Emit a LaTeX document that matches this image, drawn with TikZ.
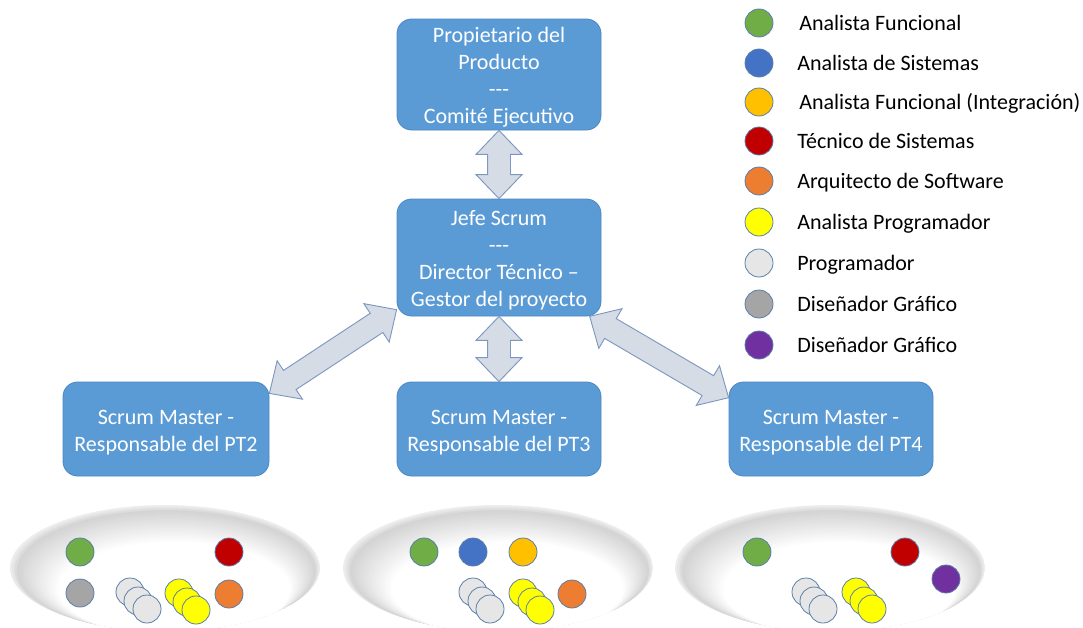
\documentclass[tikz,border=0pt]{standalone}
\usepackage{fontspec}
\setmainfont{Carlito}
\usetikzlibrary{calc}

\definecolor{boxblue}{HTML}{5B9BD5}
\definecolor{boxedge}{HTML}{4A86C2}
\definecolor{arrfill}{HTML}{D6DCE5}
\definecolor{arredge}{HTML}{7D98C0}
\definecolor{dotedge}{HTML}{5A7FA8}
\definecolor{cgreen}{HTML}{70AD47}
\definecolor{cblue}{HTML}{4472C4}
\definecolor{cgold}{HTML}{FFC000}
\definecolor{cred}{HTML}{C00000}
\definecolor{corange}{HTML}{ED7D31}
\definecolor{cyellow}{HTML}{FFFF00}
\definecolor{clight}{HTML}{E7E6E6}
\definecolor{cgrey}{HTML}{A5A5A5}
\definecolor{cpurple}{HTML}{7030A0}

% block double arrow between two points
\newcommand\ahl{18pt}
\newcommand\ahw{17.25pt}
\newcommand\asw{8.6pt}
\newcommand\dblarrow[2]{%
  \draw[dblarr] let \p1=(#1), \p2=(#2),
    \n1={atan2(\y2-\y1,\x2-\x1)}, \n2={veclen(\x2-\x1,\y2-\y1)-18} in
    (\p1)
    -- ($(\p1)+(\n1:\ahl)+(\n1+90:\ahw)$)
    -- ($(\p1)+(\n1:\ahl)+(\n1+90:\asw)$)
    -- ($(\p1)+(\n1:\n2)+(\n1+90:\asw)$)
    -- ($(\p1)+(\n1:\n2)+(\n1+90:\ahw)$)
    -- (\p2)
    -- ($(\p1)+(\n1:\n2)+(\n1-90:\ahw)$)
    -- ($(\p1)+(\n1:\n2)+(\n1-90:\asw)$)
    -- ($(\p1)+(\n1:\ahl)+(\n1-90:\asw)$)
    -- ($(\p1)+(\n1:\ahl)+(\n1-90:\ahw)$)
    -- cycle;}

% team pool: soft grey rim fading to a white centre (stacked ellipses)
\newcommand\teampool[1]{%
  \begin{scope}
    \clip (#1) ellipse [x radius=116.25pt, y radius=47.25pt];
    \foreach \k in {0,1,...,24}{%
      \pgfmathsetmacro\rx{116.25*(1-0.012*\k)}%
      \pgfmathsetmacro\ry{47.25*(1-0.012*\k)}%
      \pgfmathsetmacro\gr{\k<4 ? 7+3.3*\k : max(0,17*(1-(\k-3)/18))}%
      \fill[black!\gr] ($(#1)+(0.45*\k,-1.0*\k)$)
        ellipse [x radius=\rx pt, y radius=\ry pt];
    }
  \end{scope}}

% taller first line so the text block sits visually centred
\newcommand\firststrut{\rule{0pt}{16pt}}

\tikzset{
  rolebox/.style={draw=boxedge, line width=0.6pt, fill=boxblue,
    rounded corners=11pt, text=white, align=center, inner sep=0pt,
    minimum width=153pt},
  dblarr/.style={draw=arredge, line width=0.7pt, fill=arrfill, line join=miter},
  dot/.style={circle, draw=dotedge, line width=0.6pt, inner sep=0pt,
    minimum size=21pt},
  legtext/.style={anchor=base west, inner sep=0pt, text=black},
}

\begin{document}
\begin{tikzpicture}[x=0.75pt, y=0.75pt, font=\fontsize{16.5}{20.2}\selectfont]
\useasboundingbox (0,0) rectangle (1083,-628);

% team pools
\coordinate (team2) at (165,-568);
\coordinate (team3) at (498,-568);
\coordinate (team4) at (830,-568);
\teampool{team2}
\teampool{team3}
\teampool{team4}

% role boxes
\node[rolebox, minimum height=83.25pt] (po) at (499,-74.5)
  {\firststrut Propietario del\\Producto\\-{}-{}-\\Comité Ejecutivo};
\node[rolebox, minimum height=87.75pt] (js) at (499,-257.5)
  {\firststrut Jefe Scrum\\-{}-{}-\\Director Técnico –\\Gestor del proyecto};
\node[rolebox, minimum height=70.5pt, minimum width=154.5pt] (pt2) at (166,-429)
  {\firststrut Scrum Master -\\Responsable del PT2};
\node[rolebox, minimum height=70.5pt] (pt3) at (499,-429)
  {\firststrut Scrum Master -\\Responsable del PT3};
\node[rolebox, minimum height=70.5pt] (pt4) at (831,-429)
  {\firststrut Scrum Master -\\Responsable del PT4};

% communication arrows
\dblarrow{po.south}{js.north}
\dblarrow{js.south}{pt3.north}
\dblarrow{js.207.5}{pt2.19}
\dblarrow{js.-33.6}{pt4.163}

% team PT2
\node[dot, fill=cgreen]  (a1) at (80,-552) {};
\node[dot, fill=cred]    (a2) at (229,-552) {};
\node[dot, fill=cgrey]   (a3) at (80,-593) {};
\node[dot, fill=corange] (a4) at (229,-594) {};
\node[dot, fill=clight]  (a5) at (130,-592) {};
\node[dot, fill=clight]  (a6) at (138,-601) {};
\node[dot, fill=clight]  (a7) at (147,-609) {};
\node[dot, fill=cyellow] (a8) at (179,-593) {};
\node[dot, fill=cyellow] (a9) at (187,-602) {};
\node[dot, fill=cyellow] (a10) at (196,-610) {};

% team PT3
\node[dot, fill=cgreen]  (b1) at (424,-552) {};
\node[dot, fill=cblue]   (b2) at (473,-552) {};
\node[dot, fill=cgold]   (b3) at (523,-552) {};
\node[dot, fill=clight]  (b4) at (473,-592) {};
\node[dot, fill=clight]  (b5) at (482,-601) {};
\node[dot, fill=clight]  (b6) at (490,-609) {};
\node[dot, fill=cyellow] (b7) at (523,-593) {};
\node[dot, fill=cyellow] (b8) at (532,-602) {};
\node[dot, fill=cyellow] (b9) at (540,-610) {};
\node[dot, fill=corange] (b10) at (572,-594) {};

% team PT4
\node[dot, fill=cgreen]  (c1) at (757,-552) {};
\node[dot, fill=cred]    (c2) at (905,-552) {};
\node[dot, fill=cpurple] (c3) at (946,-579) {};
\node[dot, fill=clight]  (c4) at (806,-592) {};
\node[dot, fill=clight]  (c5) at (814,-601) {};
\node[dot, fill=clight]  (c6) at (823,-609) {};
\node[dot, fill=cyellow] (c7) at (856,-592) {};
\node[dot, fill=cyellow] (c8) at (864,-601) {};
\node[dot, fill=cyellow] (c9) at (872,-609) {};

% legend
\node[dot, fill=cgreen]  (l1) at (759,-23) {};
\node[dot, fill=cblue]   (l2) at (759,-63) {};
\node[dot, fill=cgold]   (l3) at (759,-102) {};
\node[dot, fill=cred]    (l4) at (759,-141) {};
\node[dot, fill=corange] (l5) at (759,-181) {};
\node[dot, fill=cyellow] (l6) at (759,-222) {};
\node[dot, fill=clight]  (l7) at (759,-263) {};
\node[dot, fill=cgrey]   (l8) at (759,-304) {};
\node[dot, fill=cpurple] (l9) at (759,-345) {};
\node[legtext] (t1) at (799,-31) {Analista Funcional};
\node[legtext] (t2) at (797,-70) {Analista de Sistemas};
\node[legtext] (t3) at (799,-109) {Analista Funcional (Integración)};
\node[legtext] (t4) at (797,-148) {Técnico de Sistemas};
\node[legtext] (t5) at (797,-188) {Arquitecto de Software};
\node[legtext] (t6) at (797,-229) {Analista Programador};
\node[legtext] (t7) at (797,-270) {Programador};
\node[legtext] (t8) at (797,-311) {Diseñador Gráfico};
\node[legtext] (t9) at (797,-352) {Diseñador Gráfico};
\end{tikzpicture}
\end{document}
